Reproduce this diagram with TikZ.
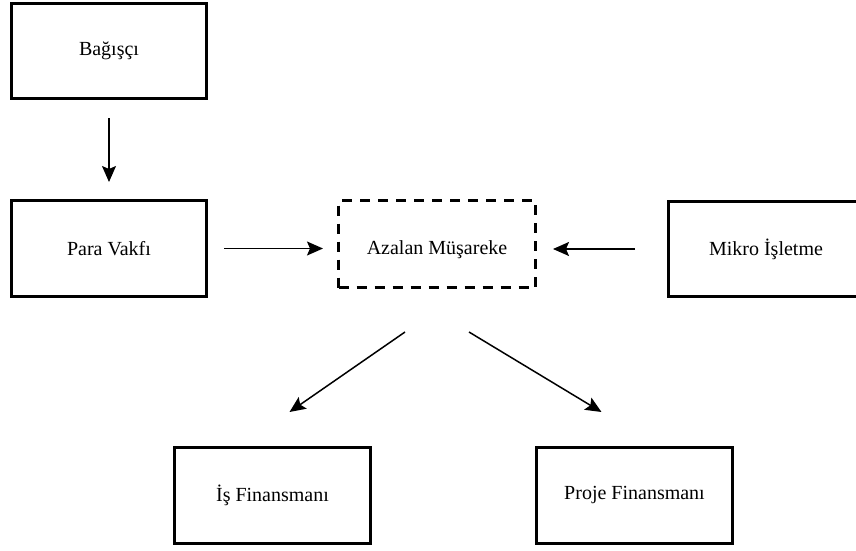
\documentclass[tikz,border=0pt]{standalone}
\usepackage{fontspec}
\setmainfont{Liberation Serif}
\usetikzlibrary{arrows.meta,calc}
\begin{document}
\begin{tikzpicture}[x=1pt,y=-1pt,
  box/.style={draw, line width=3pt, inner sep=0pt, minimum width=195pt,
    minimum height=95pt, font=\fontsize{20}{24}\selectfont},
  dbox/.style={box, dash pattern=on 10pt off 8pt, minimum width=197pt, minimum height=87pt,
    text height=20pt, text depth=0pt},
  flow/.style={-{Stealth[length=16pt,width=14pt,inset=3pt]}, line width=1.5pt}]
\useasboundingbox (0,0) rectangle (856,551);

% boxes
\node[box] (bag) at (109,51) {Bağışçı};
\node[box, minimum height=96pt] (para) at (109,248.5) {Para Vakfı};
\node[dbox] (az) at (437,244) {Azalan Müşareke};
\node[box] (mikro) at (766,249) {Mikro İşletme};
\node[box, minimum width=196pt, minimum height=96pt] (is) at (272.5,495.5) {İş Finansmanı};
\node[box, minimum width=196pt, minimum height=96pt] (proje) at (634.5,495.5) {Proje Finansmanı};

% free ends of the diagonal connectors
\coordinate (l0) at ($(az.south)+(-32,43)$);
\coordinate (l1) at ($(is.north)+(17,-34)$);
\coordinate (r0) at ($(az.south)+(32,43)$);
\coordinate (r1) at ($(proje.north)+(-33,-34)$);

% connectors
\draw[flow, shorten <=18pt, shorten >=17pt] (bag.south) -- (para.north);
\draw[flow, shorten <=16pt, shorten >=14pt] (para.east) -- (para.east -| az.west);
\draw[flow, shorten <=32pt, shorten >=16pt] (mikro.west) -- (mikro.west -| az.east);
\draw[flow] (l0) -- (l1);
\draw[flow] (r0) -- (r1);
\end{tikzpicture}
\end{document}
